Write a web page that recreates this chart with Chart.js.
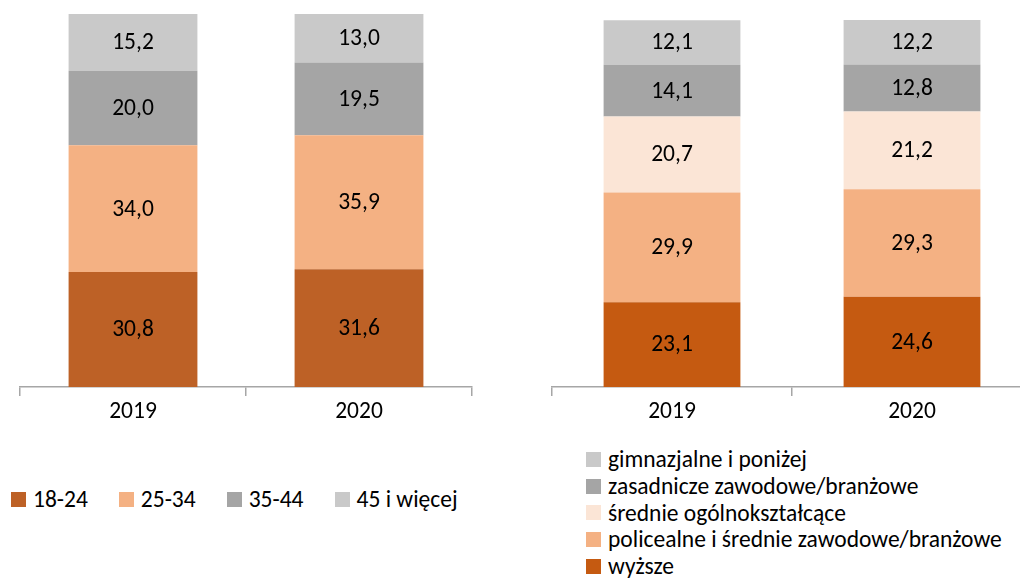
<!DOCTYPE html>
<html>
<head>
<meta charset="utf-8">
<script src="https://cdn.jsdelivr.net/npm/chart.js@4"></script>
<style>
  body { margin: 0; background: #fff; width: 1020px; height: 579px; position: relative; overflow: hidden;
         font-family: Carlito, Lato, 'Open Sans', sans-serif; }
  .box { position: absolute; }
  .legend { position: absolute; font-size: 23.5px; color: #000; }
  .legend .item { display: flex; align-items: center; white-space: nowrap; }
  .legend .sw { width: 15px; height: 15px; margin-right: 7px; flex: none; }
  #ageLegend { left: 11px; top: 485px; display: flex; gap: 31px; }
  #eduLegend { left: 586px; top: 446px; line-height: 26.8px; }
</style>
</head>
<body>
<div class="box" style="left:0;top:0;width:480px;height:440px"><canvas id="ageChart"></canvas></div>
<div class="box" style="left:540px;top:0;width:492px;height:440px"><canvas id="eduChart"></canvas></div>
<div class="legend" id="ageLegend"></div>
<div class="legend" id="eduLegend"></div>
<script>
// ── Data ────────────────────────────────────────────────────
const years = ['2019', '2020'];

const ageGroups = ['18-24', '25-34', '35-44', '45 i więcej'];
const ageColors = ['#BD6126', '#F4B183', '#A5A5A5', '#C9C9C9'];
const age18_24 = [30.8, 31.6];
const age25_34 = [34.0, 35.9];
const age35_44 = [20.0, 19.5];
const age45plus = [15.2, 13.0];

const eduGroups = ['wyższe', 'policealne i średnie zawodowe/branżowe', 'średnie ogólnokształcące',
                   'zasadnicze zawodowe/branżowe', 'gimnazjalne i poniżej'];
const eduColors = ['#C55A11', '#F4B183', '#FBE5D6', '#A5A5A5', '#C9C9C9'];
const eduHigher = [23.1, 24.6];
const eduPostSecondary = [29.9, 29.3];
const eduGeneral = [20.7, 21.2];
const eduVocational = [14.1, 12.8];
const eduLower = [12.1, 12.2];

const FONT = 'Carlito, Lato, "Open Sans", sans-serif';

// ── value labels inside the bar segments ────────────────────
const valueLabels = {
    id: 'valueLabels',
    afterDatasetsDraw(chart) {
        const ctx = chart.ctx;
        ctx.save();
        ctx.font = '23.5px ' + FONT;
        ctx.fillStyle = '#000';
        ctx.textAlign = 'center';
        ctx.textBaseline = 'middle';
        chart.data.datasets.forEach((ds, i) => {
            chart.getDatasetMeta(i).data.forEach((bar, j) => {
                const p = bar.getProps(['x', 'y', 'base'], true);
                ctx.fillText(ds.data[j].toFixed(1).replace('.', ','), p.x, (p.y + p.base) / 2 + 1);
            });
        });
        ctx.restore();
    }
};

function makeDatasets(labels, colors, series) {
    return series.map((s, i) => ({
        label: labels[i],
        data: s,
        backgroundColor: colors[i],
        borderWidth: 0,
        barPercentage: 0.57,
        categoryPercentage: 1
    }));
}

function makeOptions(padding) {
    return {
        responsive: true,
        maintainAspectRatio: false,
        animation: false,
        layout: { padding: padding },
        plugins: { legend: { display: false }, tooltip: { enabled: false } },
        scales: {
            x: {
                stacked: true,
                grid: {
                    offset: true,
                    drawOnChartArea: false,
                    drawTicks: true,
                    tickLength: 9,
                    color: '#A6A6A6',
                    lineWidth: 1.5
                },
                border: { display: true, color: '#A6A6A6', width: 1.5 },
                ticks: { color: '#000', font: { size: 23.5, family: FONT }, padding: 2 },
                afterFit: s => { s.height = 53; }
            },
            y: { stacked: true, display: false, min: 0, max: 100 }
        }
    };
}

// ── Age chart ───────────────────────────────────────────────
new Chart(document.getElementById('ageChart'), {
    type: 'bar',
    data: {
        labels: years,
        datasets: makeDatasets(ageGroups, ageColors, [age18_24, age25_34, age35_44, age45plus])
    },
    options: makeOptions({ top: 14, left: 20, right: 8, bottom: 0 }),
    plugins: [valueLabels]
});

// ── Education chart ─────────────────────────────────────────
new Chart(document.getElementById('eduChart'), {
    type: 'bar',
    data: {
        labels: years,
        datasets: makeDatasets(eduGroups, eduColors, [eduHigher, eduPostSecondary, eduGeneral, eduVocational, eduLower])
    },
    options: makeOptions({ top: 20, left: 12, right: 0, bottom: 0 }),
    plugins: [valueLabels]
});

// ── HTML legends ────────────────────────────────────────────
function buildLegend(el, labels, colors) {
    labels.forEach((l, i) => {
        const item = document.createElement('div');
        item.className = 'item';
        item.innerHTML = '<span class="sw" style="background:' + colors[i] + '"></span><span>' + l + '</span>';
        el.appendChild(item);
    });
}
buildLegend(document.getElementById('ageLegend'), ageGroups, ageColors);
buildLegend(document.getElementById('eduLegend'), eduGroups.slice().reverse(), eduColors.slice().reverse());
</script>
</body>
</html>
